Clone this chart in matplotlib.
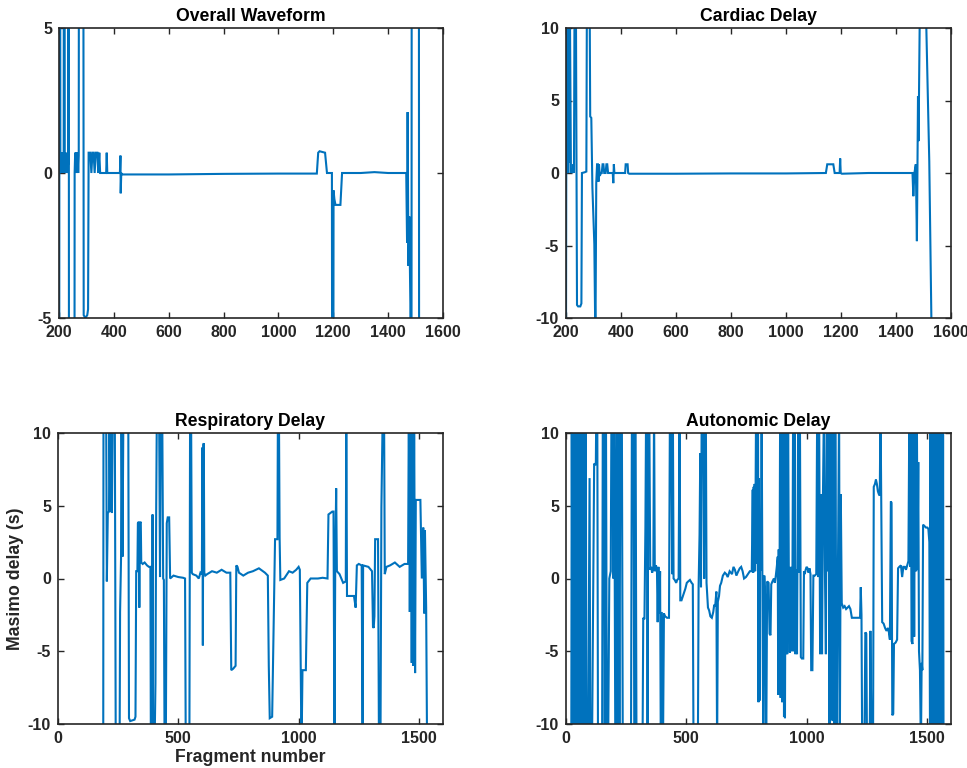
import matplotlib
matplotlib.use("Agg")
import matplotlib.pyplot as plt

plt.rcParams['font.family'] = ['Liberation Sans', 'DejaVu Sans']

LINE = '#0072BD'
AXC = '#262626'

# ---------------- Overall Waveform ----------------
ow_x = [200, 202.5, 205, 207, 209, 211, 213, 215, 217, 219,
        221, 224, 227, 230, 233, 235, 237, 255, 257, 259,
        261, 263, 265, 268, 270, 272, 274, 287, 290, 296,
        303, 306, 308, 314, 318, 322, 326, 330, 334, 340,
        343, 347, 350, 372, 374, 376, 422, 424, 425, 427,
        430, 600, 800, 1000, 1140, 1145, 1150, 1170, 1177, 1195,
        1198, 1201, 1204, 1208, 1226, 1232, 1300, 1350, 1400, 1466,
        1469, 1471, 1474, 1477, 1481, 1484, 1487, 1511, 1514]
ow_y = [-30, 30, 0, 0.7, 0, 0.7, 0, 0.7, 0, 30,
        0.5, 0, 0.7, 0, 0.3, 30, -30, -30, 0, 0.7,
        0, 0.7, 0, 0.7, 0, 0.6, 30, 30, -4.9, -5.0,
        -4.9, -4.7, 0.7, 0.7, 0, 0.7, 0.7, 0, 0.7, 0.7,
        0, 0.7, 0, 0, 0.7, 0, 0, 0.6, -0.7, 0,
        -0.05, -0.05, -0.03, -0.02, -0.02, 0.7, 0.75, 0.7, 0, 0,
        -30, -0.6, -0.9, -1.1, -1.1, 0, 0, 0.03, 0, 0,
        -2.4, 2.1, -3.2, -1.5, -4.5, -30, 30, 30, -30]

# ---------------- Cardiac Delay ----------------
cd_x = [200, 202, 204, 206, 208, 210, 212, 214, 218, 221,
        224, 227, 229, 231, 236, 240, 244, 252, 256, 258,
        268, 274, 276, 286, 288, 292, 296, 303, 307, 310,
        313, 316, 318, 320, 323, 327, 330, 333, 336, 339,
        344, 347, 350, 353, 370, 372, 374, 376, 415, 417,
        424, 426, 430, 600, 800, 1000, 1145, 1150, 1172, 1177,
        1195, 1197, 1199, 1203, 1300, 1400, 1460, 1463, 1467, 1472,
        1476, 1480, 1482, 1487, 1508, 1514, 1521, 1530]
cd_y = [-12, 12, 0.5, 12, 0, 12, 0.7, 12, 0, 0.2,
        0, 0.6, 0, 12, 12, -9.1, -9.2, -9.2, -9.0, 0,
        0.05, 0.1, 12, 12, 3.9, 3.8, -1.0, -4.9, -12, -0.7,
        0.6, 0.6, -0.6, 0.6, -0.2, 0, 0, 0.6, 0.6, 0,
        0, 0.6, 0.6, 0, 0, -0.7, 0.6, 0, 0, 0.6,
        0.6, 0, -0.05, -0.05, -0.03, -0.03, 0, 0.6, 0.6, 0,
        0, 1.0, 0, -0.05, 0, 0, 0, -1.6, 0, 0.6,
        -4.7, 5.3, 2.2, 12, 12, 6.8, 0.8, -12]

# ---------------- Respiratory Delay ----------------
rd_x = [188, 189, 200, 203, 207, 212, 214, 217, 220, 224,
        228, 236, 240, 256, 258, 262, 264, 268, 272, 292,
        295, 300, 318, 322, 325, 330, 332, 336, 338, 340,
        344, 346, 352, 360, 370, 378, 384, 386, 391, 393,
        395, 401, 405, 408, 411, 420, 424, 427, 433, 437,
        440, 443, 448, 452, 456, 462, 466, 480, 500, 520,
        528, 531, 546, 549, 553, 556, 560, 575, 585, 592,
        598, 600, 602, 604, 606, 608, 612, 620, 640, 660,
        680, 700, 716, 720, 728, 738, 741, 746, 752, 770,
        790, 810, 835, 860, 872, 876, 880, 890, 902, 912,
        914, 916, 918, 921, 924, 940, 960, 975, 990, 1000,
        1005, 1012, 1016, 1030, 1036, 1050, 1080, 1100, 1120, 1124,
        1140, 1145, 1149, 1152, 1156, 1159, 1170, 1185, 1196, 1198,
        1201, 1230, 1237, 1242, 1250, 1262, 1266, 1268, 1290, 1305,
        1309, 1312, 1315, 1318, 1330, 1334, 1340, 1344, 1350, 1355,
        1358, 1365, 1380, 1400, 1420, 1440, 1455, 1458, 1462, 1466,
        1470, 1473, 1477, 1480, 1484, 1487, 1506, 1512, 1518, 1522,
        1525, 1530, 1534]
rd_y = [-12, 12, 12, -0.2, 4.5, 4.6, 12, 4.6, 12, 4.5,
        12, 12, -12, -12, -2.3, 1.4, 12, 1.5, 12, 12,
        -9.6, -9.8, -9.7, -9.5, 0.5, 0.5, 3.8, 3.9, -2.0, 3.8,
        3.9, 1.1, 1.0, 1.1, 0.9, 0.8, 0.8, -12, -12, 4.4,
        -12, -12, -7.2, 4.6, 12, 12, 0.1, 12, 12, 0,
        -0.1, -12, -12, 3.8, 4.2, 4.2, 0, 0.2, 0.1, 0.05,
        0, -12, -12, 12, 12, 0.4, 0.3, 0.2, 0, 0.4,
        0.3, 9.0, -4.6, 9.2, 9.3, 0.4, 0.2, 0.3, 0.5, 0.4,
        0.6, 0.4, 0.4, -6.3, -6.2, -6.0, 0.9, 0.8, 0.4, 0.2,
        0.4, 0.5, 0.7, 0.4, 0.2, -6.0, -9.6, -9.5, 2.7, 2.7,
        12, 6.1, 12, 2.8, -0.1, 0, 0.5, 0.4, 0.6, 0.8,
        0.6, -12, -6.3, -6.3, -0.3, 0, 0, 0.05, 0, 4.4,
        4.6, 4.6, -12, 0.5, 6.2, 0.5, 0.3, -0.3, -0.2, 12,
        -1.2, -1.2, -2.0, 0.9, 1.0, 0.9, -12, 0.9, 0.8, 0.5,
        -3.3, -3.4, -2.6, 2.7, 2.7, -12, -12, 4.9, 12, 12,
        0.3, 0.8, 0.9, 1.1, 0.8, 1.0, 1.0, 12, -2.3, 12,
        -5.8, 12, -6.0, 12, -6.5, 5.4, 5.4, 0, 3.5, -2.4,
        3.3, -2.0, -12]

# ---------------- Autonomic Delay ----------------
ad_x = [22, 24, 27, 29, 31, 33, 36, 38, 40, 42,
        45, 47, 50, 52, 54, 56, 59, 61, 64, 66,
        69, 71, 74, 76, 79, 82, 85, 92, 98, 101,
        108, 117, 124, 126, 130, 133, 150, 153, 158, 161,
        166, 170, 175, 180, 186, 189, 194, 197, 200, 205,
        210, 214, 218, 222, 226, 232, 236, 270, 274, 280,
        284, 289, 293, 318, 321, 326, 330, 333, 337, 339,
        341, 346, 350, 354, 358, 363, 366, 369, 374, 378,
        381, 384, 388, 391, 394, 398, 403, 407, 412, 420,
        428, 432, 437, 441, 444, 447, 452, 458, 462, 468,
        472, 475, 480, 484, 490, 496, 502, 508, 515, 522,
        527, 530, 548, 551, 555, 558, 561, 564, 570, 574,
        577, 581, 584, 590, 595, 600, 606, 612, 616, 620,
        625, 628, 631, 636, 640, 645, 652, 660, 666, 672,
        680, 690, 696, 702, 708, 716, 722, 728, 734, 740,
        748, 756, 764, 772, 776, 778, 780, 782, 784, 786,
        788, 790, 792, 794, 796, 798, 800, 802, 804, 806,
        810, 813, 816, 820, 824, 828, 832, 836, 842, 846,
        850, 853, 858, 864, 868, 872, 876, 880, 882, 884,
        886, 888, 890, 892, 894, 896, 898, 900, 902, 904,
        906, 908, 910, 912, 914, 917, 920, 923, 926, 930,
        934, 938, 941, 944, 947, 950, 953, 956, 960, 965,
        968, 972, 976, 980, 986, 989, 992, 996, 1000, 1004,
        1008, 1012, 1016, 1019, 1024, 1028, 1034, 1040, 1044, 1048,
        1052, 1056, 1060, 1064, 1068, 1072, 1076, 1080, 1084, 1088,
        1092, 1095, 1098, 1101, 1104, 1107, 1110, 1113, 1116, 1119,
        1122, 1126, 1130, 1135, 1138, 1142, 1146, 1152, 1158, 1164,
        1170, 1176, 1182, 1188, 1200, 1212, 1222, 1225, 1228, 1231,
        1240, 1244, 1248, 1251, 1262, 1265, 1270, 1276, 1279, 1284,
        1288, 1292, 1296, 1300, 1304, 1307, 1310, 1314, 1320, 1326,
        1332, 1338, 1342, 1346, 1350, 1353, 1356, 1360, 1363, 1370,
        1376, 1380, 1385, 1392, 1397, 1402, 1408, 1413, 1418, 1423,
        1427, 1430, 1433, 1436, 1440, 1443, 1447, 1451, 1455, 1458,
        1461, 1464, 1467, 1471, 1475, 1478, 1481, 1484, 1490, 1496,
        1502, 1506, 1510, 1513, 1515, 1517, 1519, 1521, 1523, 1525,
        1527, 1529, 1531, 1533, 1535, 1537, 1539, 1541, 1543, 1545,
        1547, 1549, 1551, 1553, 1555, 1557, 1559, 1561, 1563, 1565,
        1567, 1569]
ad_y = [-12, 12, -12, 12, -12, 12, -12, 12, -3, 12,
        -12, 12, -12, 12, 0.5, 12, -12, 12, -12, 7.5,
        -12, 12, -12, 12, -12, 12, -12, -12, 6.9, -12,
        -12, 7.9, 7.8, 12, 12, -12, -12, 12, 12, -12,
        12, -12, -12, 0, 0.5, 12, 12, 0, 12, -12,
        12, -12, 12, -12, 12, 12, -12, -12, 12, 12,
        -12, 12, -12, -12, -2.7, -2.8, 3.5, 12, 12, -12,
        12, 12, 0.6, 0.8, 0.4, 0.7, 12, 0.5, 0.9, 0.6,
        -3, 0.8, -2.4, 0.5, -12, -2.3, -12, -2.4, -2.6, -2.7,
        -2.7, 12, 12, 0.3, 12, 0, -0.1, -0.3, -0.1, 0,
        12, -1.5, -1.5, -1.3, -1.0, -0.7, -0.3, -0.2, -0.1, -0.3,
        -0.4, -12, -12, -0.6, 3, 8.6, -0.6, 12, 12, 0,
        12, 12, -0.3, -2.0, -2.2, -2.6, -2.7, -2.3, -1.8, -1.9,
        -0.9, -12, -1.6, -1.2, -0.5, -0.3, 0.2, 0.4, 0.3, 0.1,
        0.5, 0.3, 0.8, 0.6, 0.2, 0.5, 0.7, 0.8, 0.5, 0.0,
        0.1, 0.3, 0.5, 0.5, 6.1, 0.4, 6.3, 1.0, 6.5, 0.5,
        6.6, 12, 6.8, 1.0, 7.0, 12, -8.5, 6.9, -8.4, 0.6,
        0.6, 12, 0.3, -12, 0.2, -1.5, -12, -0.2, -0.3, -3.8,
        -3.9, -0.4, -0.2, 0, -0.3, 0.2, 0.8, 1.5, -8.0, 2.0,
        -7.5, 2.3, 12, -8.2, 2.4, 12, -8.5, 12, -5.2, 12,
        -9.5, 12, -9.6, 0.5, 12, -5.1, -5.2, 12, 0.2, -5.1,
        0.8, -5.0, -0.2, 12, -5.0, 12, -5.2, 0.6, -5.2, 12,
        0.4, 12, -5.4, -5.5, -5.5, 0.5, 0.3, 0.6, 0.8, 0.7,
        0.4, 0.7, 0.3, -6.3, -6.3, 0.2, 0.2, 0.3, 12, 0.1,
        12, -5.2, 5.8, -5.2, 5.9, 12, 0.6, -5.2, 12, 0.5,
        12, -12, 12, -9.7, 12, -9.8, 0.4, 12, -12, 12,
        0.5, -12, 0.3, 12, -12, 5.8, -1.7, -2.0, -1.9, -2.1,
        -2.0, -1.9, -2.1, -2.7, -2.7, -2.7, -2.7, -0.6, -2.5, -12,
        -12, -3.7, -3.8, -12, -12, -3.6, -12, -12, 6.3, 6.5,
        6.8, 6.5, 6.0, 5.8, 5.7, 12, 5.9, -3.0, -3.1, -3.4,
        -3.6, -3.4, -3.7, -4.2, 5.3, 5.2, -9.4, -9.3, -4.5, -4.4,
        -4.2, 0.7, 0.8, 0.9, 0.1, 0.8, 0.8, 0.6, 0.9, 1.2,
        12, 0.8, 12, -4.3, -4.5, 12, -4.0, 12, 0.5, 12,
        0.6, 8.0, -5.0, -6.3, -12, -5.8, -6.3, 3.7, 3.6, 3.5,
        3.5, 3.4, 2.5, -12, 12, -12, 12, -12, 12, -12,
        12, -12, 12, -12, 12, -12, 12, -12, 12, -12,
        12, -12, 12, -12, 12, -12, 12, -12, 12, -12,
        12, -12]

titles = ['Overall Waveform', 'Cardiac Delay', 'Respiratory Delay', 'Autonomic Delay']
top_xticks = [200, 400, 600, 800, 1000, 1200, 1400, 1600]
bot_xticks = [0, 500, 1000, 1500]
ow_yticks = [-5, 0, 5]
yticks10 = [-10, -5, 0, 5, 10]

fig = plt.figure(figsize=(9.67, 7.68), dpi=100)

W = 967.0
H = 768.0
rects = [
    [59 / W, 1 - 318 / H, 384 / W, 290 / H],
    [566 / W, 1 - 318 / H, 385 / W, 290 / H],
    [58 / W, 1 - 724 / H, 385 / W, 291 / H],
    [566 / W, 1 - 724 / H, 385 / W, 291 / H],
]

series = [(ow_x, ow_y), (cd_x, cd_y), (rd_x, rd_y), (ad_x, ad_y)]
xlims = [(200, 1600), (200, 1600), (0, 1600), (0, 1600)]
ylims = [(-5, 5), (-10, 10), (-10, 10), (-10, 10)]
xt = [top_xticks, top_xticks, bot_xticks, bot_xticks]
yt = [ow_yticks, yticks10, yticks10, yticks10]

axes = []
for i in range(4):
    ax = fig.add_axes(rects[i])
    x, y = series[i]
    ax.plot(x, y, color=LINE, lw=1.5, solid_joinstyle='miter')
    ax.set_xlim(*xlims[i])
    ax.set_ylim(*ylims[i])
    ax.set_xticks(xt[i])
    ax.set_yticks(yt[i])
    ax.set_xticklabels([str(v) for v in xt[i]])
    ax.set_yticklabels([str(v) for v in yt[i]])
    ax.tick_params(direction='in', length=4, width=1.0, color=AXC,
                   top=True, right=True, labelsize=11.5, labelcolor=AXC, pad=5)
    for lab in ax.get_xticklabels() + ax.get_yticklabels():
        lab.set_fontweight('bold')
    for sp in ax.spines.values():
        sp.set_linewidth(1.2)
        sp.set_color(AXC)
    ax.set_title(titles[i], fontsize=12.7, fontweight='bold', color='black', pad=5)
    axes.append(ax)

axes[2].set_ylabel('Masimo delay (s)', fontsize=12.7, fontweight='bold', color=AXC, labelpad=3)
axes[2].set_xlabel('Fragment number', fontsize=12.7, fontweight='bold', color=AXC, labelpad=2)

fig.savefig('out.png', dpi=100, facecolor='white')
